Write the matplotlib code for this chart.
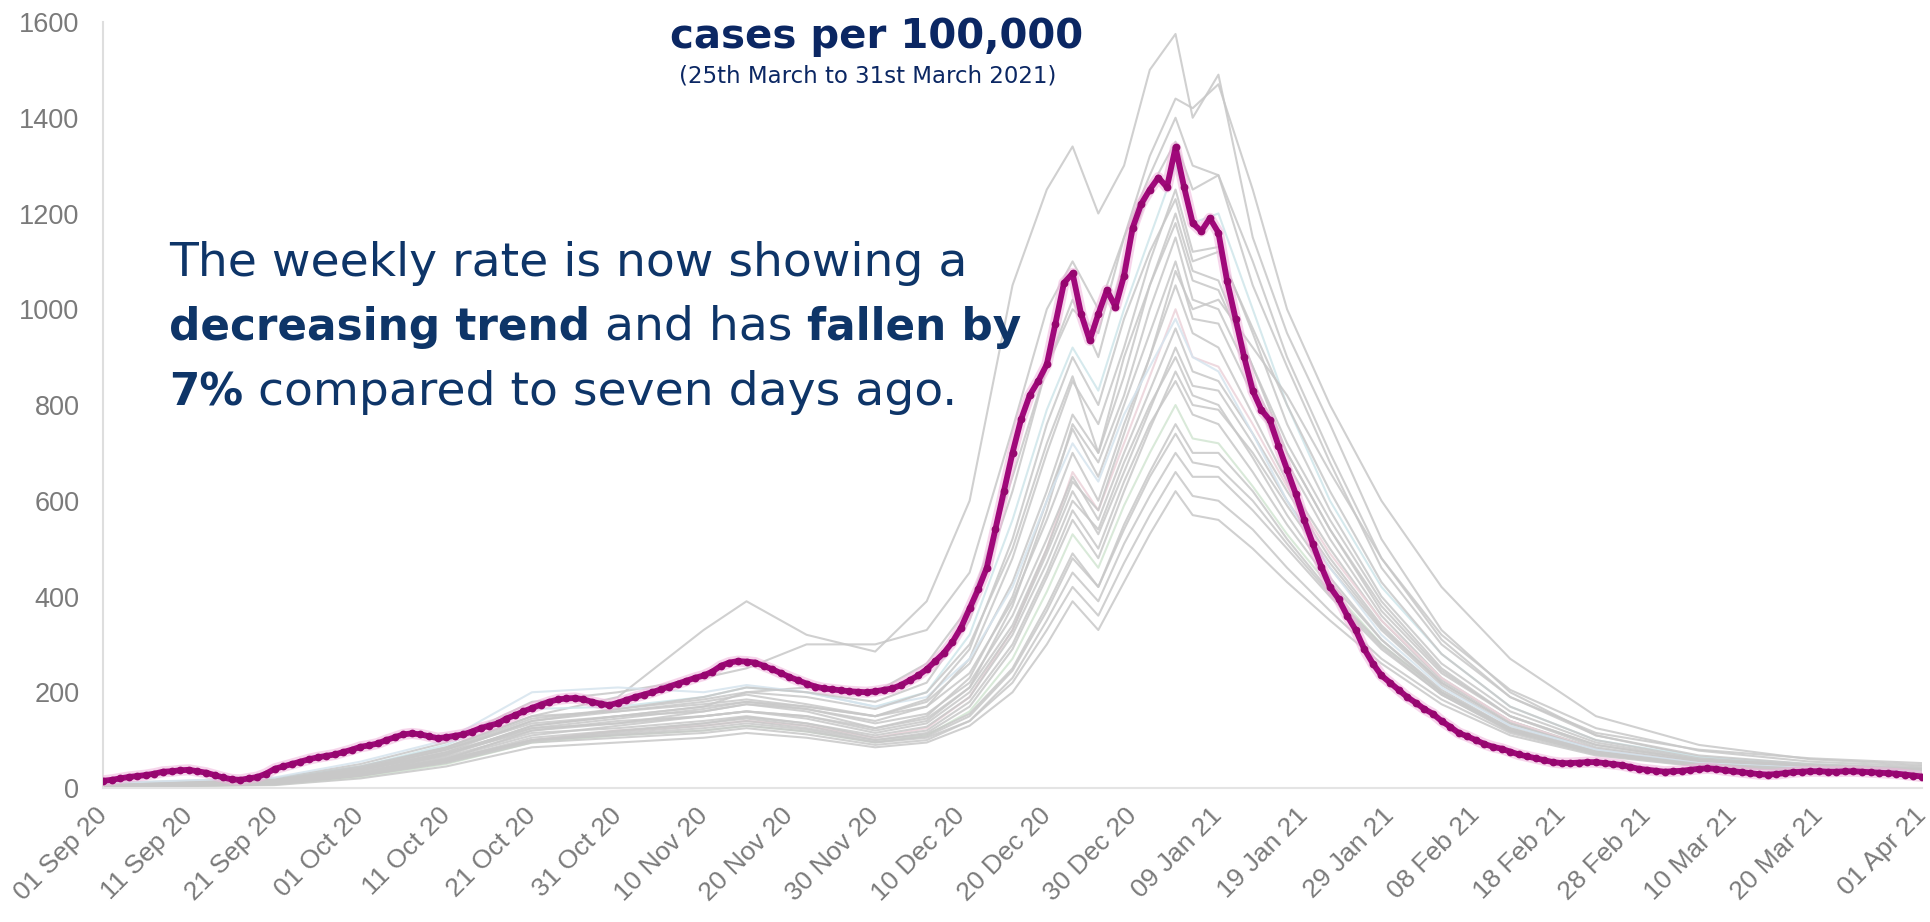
import numpy as np
import matplotlib
matplotlib.use("Agg")
import matplotlib.pyplot as plt
from datetime import datetime

# ---------------- data ----------------
START_DATE = "2020-09-01"

# highlighted area: weekly cases per 100,000 (daily, 01 Sep 20 -> 01 Apr 21)
AREA_RATE = [
    15, 17, 20, 23, 25, 27, 30, 34, 35, 37,
    38, 35, 32, 27, 22, 18, 17, 20, 23, 30,
    40, 45, 50, 55, 60, 64, 67, 70, 75, 80,
    86, 89, 93, 100, 106, 112, 114, 112, 108, 104,
    106, 109, 112, 118, 125, 130, 135, 145, 152, 160,
    167, 174, 180, 185, 187, 188, 185, 180, 176, 173,
    178, 184, 190, 195, 200, 206, 212, 218, 224, 230,
    235, 243, 255, 262, 265, 264, 262, 255, 248, 240,
    232, 225, 218, 212, 208, 206, 204, 202, 201, 200,
    202, 205, 208, 215, 225, 235, 248, 265, 282, 305,
    335, 375, 415, 460, 540, 620, 700, 770, 820, 850,
    885, 970, 1055, 1075, 990, 935, 990, 1040, 1005, 1070,
    1170, 1220, 1250, 1275, 1255, 1338, 1255, 1180, 1163, 1190,
    1160, 1060, 980, 900, 830, 790, 768, 715, 665, 615,
    560, 510, 462, 420, 395, 360, 330, 290, 260, 235,
    220, 205, 190, 178, 165, 155, 140, 128, 115, 108,
    100, 92, 86, 82, 76, 70, 66, 62, 58, 54,
    52, 52, 53, 54, 54, 52, 50, 48, 44, 40,
    38, 36, 34, 35, 36, 38, 40, 41, 40, 37,
    35, 33, 31, 29, 28, 29, 31, 33, 34, 35,
    35, 34, 34, 35, 35, 34, 33, 32, 31, 30,
    28, 26, 24,
]

# other areas, sampled on these day offsets from START_DATE
OTHER_DAYS = [0, 10, 20, 30, 40, 50, 60, 70, 75, 82, 90, 96, 101, 106, 110, 113,
              116, 119, 122, 125, 127, 130, 134, 138, 143, 149, 156, 164, 174, 186, 199, 212]

OTHER_AREAS = [
    [5, 10, 20, 45, 85, 150, 190, 330, 390, 320, 285, 390, 600, 1050, 1250, 1340,
     1200, 1300, 1500, 1575, 1400, 1490, 1150, 950, 760, 520, 330, 200, 110, 65, 48, 38],
    [3, 6, 10, 30, 70, 130, 150, 170, 200, 210, 200, 260, 380, 650, 880, 1000,
     950, 1150, 1320, 1440, 1420, 1470, 1250, 1000, 800, 600, 420, 270, 150, 90, 60, 48],
    [10, 15, 20, 50, 95, 180, 200, 230, 250, 300, 300, 330, 450, 750, 1000, 1100,
     1000, 1150, 1280, 1400, 1300, 1280, 1050, 880, 680, 460, 300, 190, 115, 80, 62, 52],
    [6, 10, 18, 45, 90, 165, 170, 190, 210, 200, 170, 200, 320, 560, 790, 920,
     830, 1000, 1150, 1300, 1180, 1200, 1000, 800, 600, 420, 280, 170, 100, 65, 50, 40],
    [4, 8, 12, 35, 70, 130, 150, 160, 175, 165, 140, 170, 270, 480, 700, 850,
     760, 920, 1100, 1250, 1120, 1130, 950, 760, 580, 400, 260, 160, 95, 60, 45, 38],
    [7, 12, 15, 40, 80, 140, 160, 175, 185, 170, 150, 180, 260, 430, 620, 780,
     700, 860, 1050, 1200, 1080, 1060, 880, 720, 560, 390, 250, 150, 90, 58, 45, 36],
    [3, 5, 10, 28, 60, 120, 140, 150, 160, 150, 120, 140, 210, 380, 580, 760,
     680, 820, 1000, 1150, 1020, 1000, 850, 700, 540, 380, 245, 150, 85, 55, 42, 35],
    [5, 9, 14, 38, 75, 125, 135, 160, 175, 160, 125, 150, 230, 400, 600, 750,
     650, 800, 950, 1100, 980, 970, 820, 680, 520, 360, 230, 140, 80, 52, 40, 33],
    [8, 14, 18, 45, 85, 150, 160, 180, 195, 175, 150, 170, 240, 390, 560, 700,
     600, 760, 900, 1050, 950, 920, 780, 640, 500, 350, 225, 140, 82, 55, 43, 34],
    [2, 5, 8, 25, 55, 100, 120, 130, 140, 130, 105, 125, 190, 330, 500, 660,
     580, 720, 860, 1000, 900, 880, 760, 630, 490, 350, 230, 140, 80, 52, 40, 32],
    [6, 10, 15, 40, 80, 135, 150, 170, 180, 165, 135, 155, 220, 360, 520, 650,
     560, 700, 830, 960, 870, 850, 740, 620, 480, 340, 220, 135, 78, 50, 40, 32],
    [4, 7, 11, 30, 62, 110, 130, 150, 160, 145, 115, 135, 200, 330, 490, 620,
     530, 660, 790, 920, 840, 830, 720, 600, 470, 335, 220, 135, 80, 52, 42, 34],
    [3, 6, 9, 28, 58, 100, 115, 130, 140, 125, 100, 115, 170, 290, 440, 560,
     480, 620, 750, 870, 800, 790, 700, 590, 460, 330, 215, 130, 78, 50, 40, 32],
    [5, 8, 12, 32, 65, 115, 125, 140, 150, 135, 105, 120, 180, 300, 450, 580,
     500, 640, 760, 850, 780, 760, 660, 550, 430, 310, 205, 125, 75, 48, 38, 30],
    [2, 4, 7, 22, 50, 95, 110, 120, 130, 118, 95, 110, 160, 270, 410, 530,
     460, 590, 700, 800, 730, 720, 630, 530, 420, 300, 200, 120, 72, 48, 38, 30],
    [4, 7, 10, 28, 58, 105, 120, 135, 145, 130, 100, 112, 155, 250, 380, 490,
     420, 550, 660, 760, 700, 700, 620, 520, 410, 300, 200, 122, 75, 50, 40, 32],
    [3, 5, 8, 25, 52, 95, 105, 115, 125, 112, 90, 100, 140, 230, 350, 450,
     390, 510, 610, 700, 650, 650, 580, 500, 400, 290, 195, 118, 72, 48, 38, 30],
    [5, 8, 12, 30, 60, 100, 110, 120, 130, 118, 95, 105, 140, 220, 330, 420,
     360, 470, 570, 660, 610, 600, 540, 460, 370, 270, 185, 115, 70, 46, 36, 28],
    [2, 4, 6, 20, 45, 85, 95, 105, 115, 105, 85, 95, 130, 200, 300, 390,
     330, 430, 530, 620, 570, 560, 500, 430, 350, 260, 175, 110, 68, 45, 35, 28],
    [6, 10, 15, 38, 72, 120, 135, 150, 160, 150, 125, 145, 210, 340, 500, 640,
     580, 740, 900, 1080, 1000, 1020, 920, 820, 660, 480, 320, 205, 125, 78, 55, 45],
    [10, 16, 22, 55, 100, 200, 210, 200, 215, 200, 170, 190, 270, 420, 600, 720,
     640, 780, 880, 980, 900, 870, 740, 600, 460, 320, 210, 130, 80, 52, 42, 34],
    [4, 8, 12, 32, 68, 125, 145, 165, 180, 170, 150, 185, 290, 520, 760, 900,
     800, 980, 1120, 1230, 1100, 1120, 960, 800, 620, 430, 280, 170, 100, 62, 48, 40],
    [6, 11, 16, 42, 82, 145, 165, 185, 200, 190, 165, 200, 300, 500, 720, 860,
     700, 900, 1050, 1180, 1060, 1040, 880, 700, 540, 370, 240, 150, 90, 58, 46, 38],
    [3, 6, 9, 26, 55, 100, 118, 135, 148, 135, 110, 128, 190, 320, 470, 600,
     540, 680, 800, 900, 820, 800, 690, 570, 440, 310, 200, 125, 76, 50, 40, 32],
    [5, 9, 14, 36, 75, 140, 165, 190, 210, 200, 180, 220, 350, 620, 880, 1020,
     900, 1100, 1250, 1350, 1250, 1280, 1100, 900, 700, 480, 310, 190, 110, 68, 50, 42],
    [4, 7, 10, 27, 55, 98, 112, 125, 135, 122, 96, 108, 150, 245, 370, 480,
     420, 540, 650, 740, 680, 670, 600, 510, 405, 295, 195, 120, 74, 49, 39, 31],
]

Y_TICKS = [0, 200, 400, 600, 800, 1000, 1200, 1400, 1600]
X_TICK_LABELS = ["01 Sep 20", "11 Sep 20", "21 Sep 20", "01 Oct 20", "11 Oct 20",
                 "21 Oct 20", "31 Oct 20", "10 Nov 20", "20 Nov 20", "30 Nov 20",
                 "10 Dec 20", "20 Dec 20", "30 Dec 20", "09 Jan 21", "19 Jan 21",
                 "29 Jan 21", "08 Feb 21", "18 Feb 21", "28 Feb 21", "10 Mar 21",
                 "20 Mar 21", "01 Apr 21"]

TITLE = "cases per 100,000"
SUBTITLE = "(25th March to 31st March 2021)"
BODY_LINES = [
    [("The weekly rate is now showing a", "normal")],
    [("decreasing trend", "bold"), (" and has ", "normal"), ("fallen by", "bold")],
    [("7%", "bold"), (" compared to seven days ago.", "normal")],
]

# ---------------- figure ----------------
plt.rcParams["font.family"] = ["DejaVu Sans"]
W, H = 1931, 922
fig = plt.figure(figsize=(W / 100, H / 100), dpi=100)
fig.patch.set_facecolor("white")

ax_l, ax_r, ax_b, ax_t = 103, 1922, 788, 22
ax = fig.add_axes([ax_l / W, 1 - ax_b / H, (ax_r - ax_l) / W, (ax_b - ax_t) / H])

start = np.datetime64(START_DATE)
area_dates = start + np.arange(len(AREA_RATE)).astype("timedelta64[D]")
other_dates = start + np.array(OTHER_DAYS).astype("timedelta64[D]")

gray_colors = ["#c8c8c8"] * len(OTHER_AREAS)
for i, c in zip([3, 9, 14, 20], ["#cfe6ea", "#ecd3da", "#d3e6d3", "#d6e4ee"]):
    gray_colors[i] = c

for vals, col in zip(OTHER_AREAS, gray_colors):
    ax.plot(other_dates, vals, color=col, lw=1.5, alpha=0.85, zorder=2,
            solid_joinstyle="round")

ax.plot(area_dates, AREA_RATE, color="#f0b4dc", lw=8, zorder=3, alpha=0.55,
        solid_joinstyle="round", solid_capstyle="round")
ax.plot(area_dates, AREA_RATE, color="#a0087a", lw=4.2, marker="o", ms=4.6,
        mec="#96066f", mfc="#96066f", zorder=4, solid_joinstyle="round")

ax.set_xlim(area_dates[0], area_dates[-1])
ax.set_ylim(Y_TICKS[0], Y_TICKS[-1])

tick_dates = [np.datetime64(datetime.strptime(s, "%d %b %y").date()) for s in X_TICK_LABELS]
ax.set_xticks(tick_dates)
ax.set_xticklabels(X_TICK_LABELS, rotation=45, ha="right", va="center",
                   rotation_mode="anchor", fontsize=19, color="#7a7a7a",
                   family="Liberation Sans")
ax.set_yticks(Y_TICKS)
ax.set_yticklabels([str(v) for v in Y_TICKS], fontsize=19.5, color="#7a7a7a",
                   family="Liberation Sans")
ax.tick_params(axis="x", length=0, pad=17)
ax.tick_params(axis="y", length=0, pad=17)

for s in ["top", "right"]:
    ax.spines[s].set_visible(False)
ax.spines["left"].set_color("#dedede")
ax.spines["left"].set_linewidth(1.5)
ax.spines["bottom"].set_color("#e4e4e4")
ax.spines["bottom"].set_linewidth(1.5)
ax.grid(False)

# title
fig.text(877 / W, 1 - 37 / H, TITLE, ha="center", va="center", fontsize=29,
         fontweight="bold", color="#0b2763")
fig.text(868 / W, 1 - 76 / H, SUBTITLE, ha="center", va="center", fontsize=16.5,
         color="#0b2763")

# body text
body_color = "#0e3568"
baselines = [276, 340, 406]
sizes = {"normal": 34, "bold": 31.5}
for line, yb in zip(BODY_LINES, baselines):
    prev = None
    for txt, wt in line:
        if prev is None:
            prev = fig.text(169 / W, 1 - yb / H, txt, ha="left", va="baseline",
                            fontsize=sizes[wt], fontweight=wt, color=body_color)
        else:
            prev = ax.annotate(txt, xy=(1, 0), xycoords=prev, ha="left",
                               va="bottom", fontsize=sizes[wt], fontweight=wt,
                               color=body_color, annotation_clip=False)

fig.savefig("out.png", dpi=100, facecolor="white")
